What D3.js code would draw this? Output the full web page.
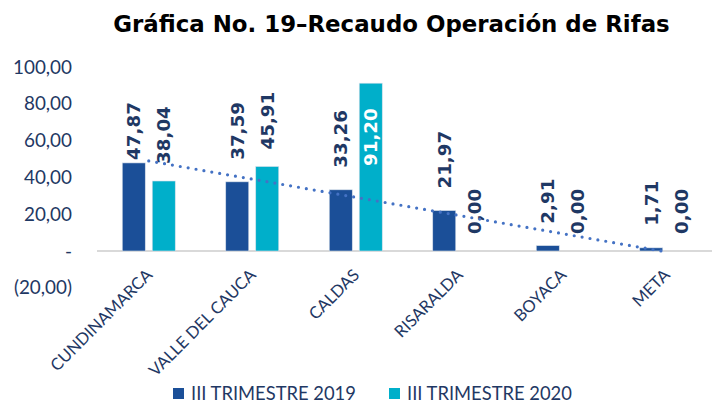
<!DOCTYPE html>
<html>
<head>
<meta charset="utf-8">
<script src="https://cdn.jsdelivr.net/npm/d3@7/dist/d3.min.js"></script>
<style>
  html, body { margin: 0; padding: 0; background: #ffffff; }
  svg { display: block; }
</style>
</head>
<body>
<svg id="chart" width="712" height="419"></svg>
<script>
const categories = ["CUNDINAMARCA", "VALLE DEL CAUCA", "CALDAS", "RISARALDA", "BOYACA", "META"];
const seriesNames = ["III TRIMESTRE 2019", "III TRIMESTRE 2020"];
const values2019 = [47.87, 37.59, 33.26, 21.97, 2.91, 1.71];
const values2020 = [38.04, 45.91, 91.20, 0.00, 0.00, 0.00];
const yTicks = [-20, 0, 20, 40, 60, 80, 100];
const titleText = "Gráfica No. 19–Recaudo Operación de Rifas";

const colors = ["#1B4F98", "#00AFCA"];
const navy = "#1F3864";
const svg = d3.select("#chart");

const fmt = v => {
  if (v === 0) return "-";
  const s = Math.abs(v).toFixed(2).replace(".", ",");
  return v < 0 ? "(" + s + ")" : s;
};
const fmtLabel = v => v.toFixed(2).replace(".", ",");

// scale a text selection's font so that a reference node reaches a target length
function fitFont(sel, refNode, base, target) {
  sel.attr("font-size", base);
  const w = refNode.getComputedTextLength();
  const fs = base * target / w;
  sel.attr("font-size", fs);
  return fs;
}

const x0 = d3.scaleBand().domain(categories).range([97, 718]).paddingInner(0.488).paddingOuter(0.244);
const x1 = d3.scaleBand().domain(seriesNames).range([0, x0.bandwidth()]).paddingInner(0.233).paddingOuter(0);
const y = d3.scaleLinear().domain([-20, 100]).range([287.8, 67]);

// Title
const title = svg.append("text")
  .attr("x", 391.5).attr("y", 32)
  .attr("text-anchor", "middle")
  .attr("font-family", "DejaVu Sans, Verdana, sans-serif")
  .attr("font-weight", "bold")
  .attr("fill", "#000")
  .text(titleText);
fitFont(title, title.node(), 20, 557);

// Y axis (labels only)
const yAxis = d3.axisLeft(y).tickValues(yTicks).tickFormat(fmt).tickSize(0).tickPadding(0);
const yg = svg.append("g").attr("transform", "translate(72,0)").call(yAxis);
yg.select(".domain").remove();
const yLabels = yg.selectAll("text")
  .attr("font-family", "Lato, Carlito, sans-serif")
  .attr("fill", navy);
fitFont(yLabels, yLabels.filter(d => d === 100).node(), 17, 59);

// zero line
svg.append("line")
  .attr("x1", 97).attr("x2", 712)
  .attr("y1", y(0)).attr("y2", y(0))
  .attr("stroke", "#D9D9D9").attr("stroke-width", 2);

// Bars
const data = categories.map((c, i) => ({ cat: c, vals: [values2019[i], values2020[i]] }));
const groups = svg.append("g").selectAll("g").data(data).join("g")
  .attr("transform", d => `translate(${x0(d.cat)},0)`);

groups.selectAll("rect").data(d => d.vals.map((v, j) => ({ v, s: seriesNames[j], j })))
  .join("rect")
  .attr("x", d => x1(d.s))
  .attr("width", x1.bandwidth())
  .attr("y", d => y(Math.max(0, d.v)))
  .attr("height", d => Math.abs(y(d.v) - y(0)))
  .attr("fill", d => colors[d.j])
  .attr("stroke", "#d7dfea").attr("stroke-width", 0.6);

// Trendline (linear regression on 2019 series)
const n = values2019.length;
const xs = d3.range(1, n + 1);
const mx = d3.mean(xs), my = d3.mean(values2019);
const slope = d3.sum(xs, (xv, i) => (xv - mx) * (values2019[i] - my)) / d3.sum(xs, xv => (xv - mx) ** 2);
const icpt = my - slope * mx;
const cx = c => x0(c) + x0.bandwidth() / 2;
svg.append("line")
  .attr("x1", cx(categories[0])).attr("y1", y(icpt + slope * 1))
  .attr("x2", cx(categories[n - 1]) - 4).attr("y2", y(icpt + slope * (n - 0.04)))
  .attr("stroke", "#4472C4").attr("stroke-width", 3.2)
  .attr("stroke-linecap", "round")
  .attr("stroke-dasharray", "0 8");

// Data labels
const gaps = [22, 17];
groups.selectAll("text.lbl").data(d => d.vals.map((v, j) => ({ v, s: seriesNames[j], j, cat: d.cat })))
  .join("text")
  .attr("class", "lbl")
  .each(function (d) {
    const bx = x1(d.s) + x1.bandwidth() / 2;
    const inside = d.v > 80;
    let ty;
    if (inside) ty = y(d.v) + 25;
    else ty = y(d.v) - gaps[d.j] + (d.cat === categories[0] && d.j === 0 ? 19 : 0);
    d3.select(this)
      .attr("transform", `translate(${bx},${ty}) rotate(-90)`)
      .attr("text-anchor", inside ? "end" : "start")
      .attr("dy", "0.36em")
      .attr("fill", inside ? "#ffffff" : navy)
      .text(fmtLabel(d.v));
  })
  .attr("font-family", "DejaVu Sans, Verdana, sans-serif")
  .attr("font-weight", "bold")
  .attr("font-size", 18.3);

// Category labels
const catLabels = svg.append("g").selectAll("text").data(categories).join("text")
  .attr("transform", c => `translate(${cx(c) + 0.5},${272}) rotate(-45)`)
  .attr("text-anchor", "end")
  .attr("dy", "0.35em")
  .attr("font-family", "Lato, Carlito, sans-serif")
  .attr("fill", navy)
  .text(c => c);
fitFont(catLabels, catLabels.filter(c => c === categories[0]).node(), 16, 136);

// Legend
const legX = [173, 389];
const leg = svg.append("g").selectAll("g").data(seriesNames).join("g")
  .attr("transform", (d, i) => `translate(${legX[i]},388)`);
leg.append("rect").attr("width", 11).attr("height", 11).attr("fill", (d, i) => colors[i]);
const legText = leg.append("text")
  .attr("x", 18).attr("y", 5.5).attr("dy", "0.36em")
  .attr("font-family", "Lato, Carlito, sans-serif")
  .attr("fill", navy)
  .text(d => d);
fitFont(legText, legText.node(), 18, 165);
</script>
</body>
</html>
